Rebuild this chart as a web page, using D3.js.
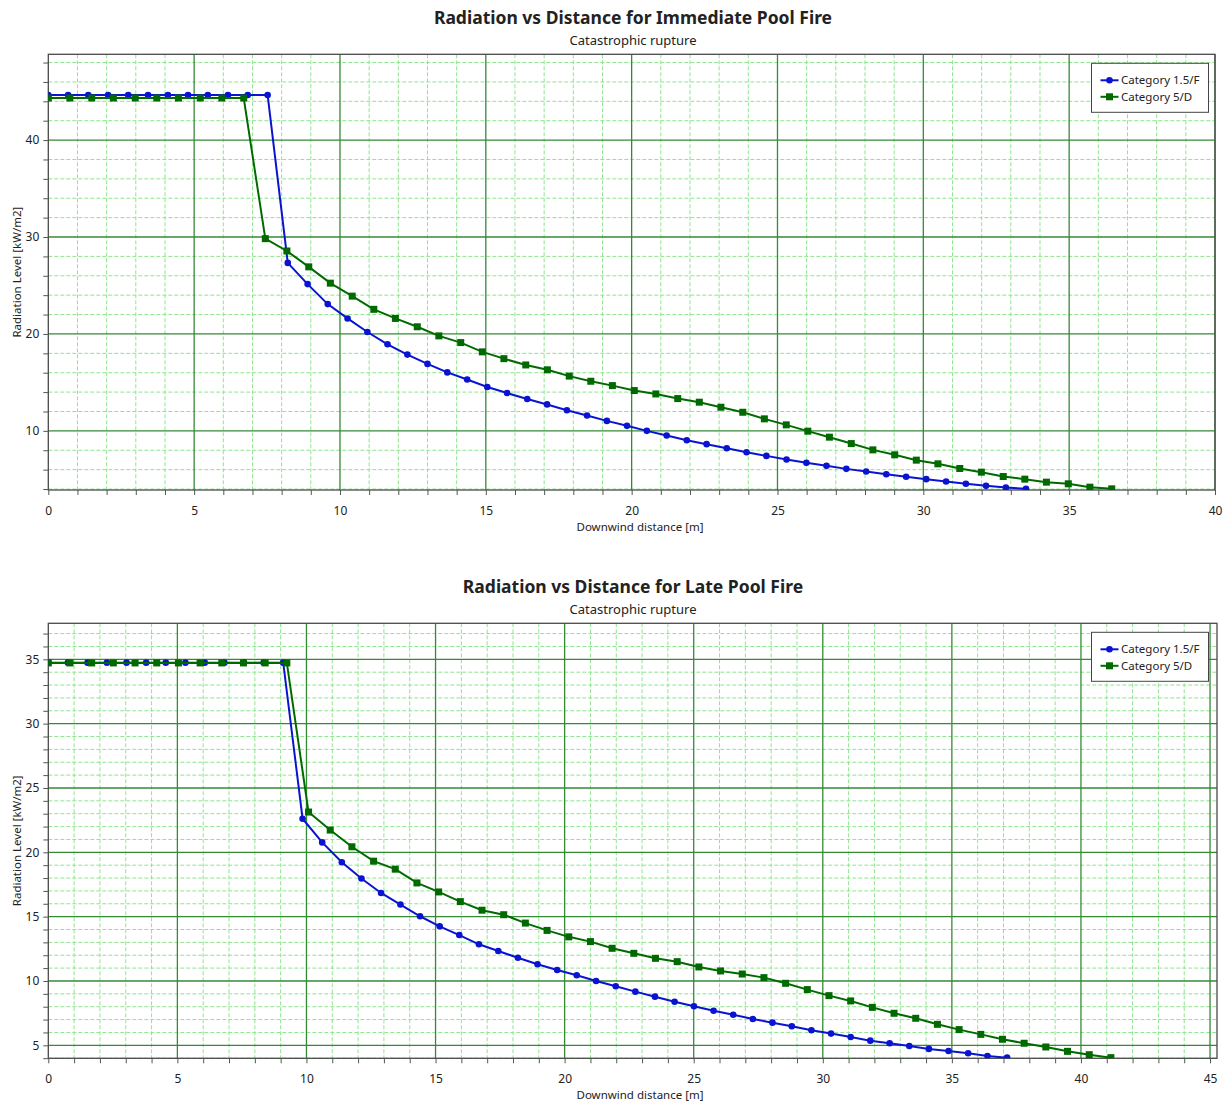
<!DOCTYPE html>
<html lang="en">

<head>
    <meta charset="UTF-8">
    <title>Radiation vs Distance</title>
    <script src="https://d3js.org/d3.v7.min.js"></script>
    <style>
        body {
            margin: 0;
            background: #fff;
        }

        text {
            font-family: "Segoe UI", "Noto Sans", sans-serif;
            fill: #222;
        }

        .major {
            stroke: #358a35;
            stroke-width: 1.3px;
        }

        .minor {
            stroke: #90e490;
            stroke-width: 1px;
            stroke-dasharray: 4 2;
        }

        .frame {
            stroke: #4a4a4a;
            stroke-width: 1.3px;
            fill: none;
        }
    </style>
</head>

<body>

    <script>
        const width = 1231;
        const height = 1108;

        // Immediate pool fire - Category 1.5/F
        const immDistF = [0, 0.68, 1.37, 2.05, 2.74, 3.42, 4.10, 4.79, 5.47, 6.16, 6.84, 7.52, 8.21, 8.89, 9.58,
            10.26, 10.94, 11.63, 12.31, 13.00, 13.68, 14.36, 15.05, 15.73, 16.42, 17.10, 17.78, 18.47, 19.15, 19.84,
            20.52, 21.20, 21.89, 22.57, 23.26, 23.94, 24.62, 25.31, 25.99, 26.68, 27.36, 28.04, 28.73, 29.41, 30.10,
            30.78, 31.46, 32.15, 32.83, 33.52];
        const immRadF = [44.65, 44.65, 44.65, 44.65, 44.65, 44.65, 44.65, 44.65, 44.65, 44.65, 44.65, 44.65,
            27.33, 25.14, 23.08, 21.6, 20.2, 18.93, 17.87, 16.91, 16.03, 15.3,
            14.52, 13.9, 13.29, 12.73, 12.13, 11.58, 11.03, 10.52, 10.0, 9.52,
            9.04, 8.63, 8.21, 7.80, 7.42, 7.04, 6.70, 6.39, 6.08, 5.81,
            5.53, 5.26, 5.02, 4.78, 4.54, 4.33, 4.16, 4.02];

        // Immediate pool fire - Category 5/D
        const immDistD = [0, 0.74, 1.49, 2.23, 2.98, 3.72, 4.46, 5.21, 5.95, 6.70, 7.44, 8.18, 8.93, 9.67, 10.42,
            11.16, 11.90, 12.65, 13.39, 14.14, 14.88, 15.62, 16.37, 17.11, 17.86, 18.60, 19.34, 20.09, 20.83, 21.58,
            22.32, 23.06, 23.81, 24.55, 25.30, 26.04, 26.78, 27.53, 28.27, 29.02, 29.76, 30.50, 31.25, 31.99, 32.74,
            33.48, 34.22, 34.97, 35.71, 36.46];
        const immRadD = [44.34, 44.34, 44.34, 44.34, 44.34, 44.34, 44.34, 44.34, 44.34, 44.34,
            29.83, 28.56, 26.92, 25.24, 23.9, 22.54, 21.6, 20.74, 19.8, 19.11,
            18.15, 17.45, 16.8, 16.3, 15.65, 15.12, 14.67, 14.16, 13.81, 13.33,
            12.96, 12.44, 11.92, 11.24, 10.62, 9.97, 9.35, 8.69, 8.04, 7.53,
            6.98, 6.60, 6.12, 5.74, 5.29, 5.02, 4.71, 4.54, 4.19, 4.02];

        // Late pool fire - Category 1.5/F
        const lateDistF = [0, 0.76, 1.52, 2.27, 3.03, 3.79, 4.55, 5.31, 6.06, 6.82, 7.58, 8.34, 9.10, 9.85, 10.61,
            11.37, 12.13, 12.89, 13.64, 14.40, 15.16, 15.92, 16.68, 17.43, 18.19, 18.95, 19.71, 20.47, 21.22, 21.98,
            22.74, 23.50, 24.26, 25.01, 25.77, 26.53, 27.29, 28.05, 28.80, 29.56, 30.32, 31.08, 31.84, 32.59, 33.35,
            34.11, 34.87, 35.63, 36.38, 37.14];
        const lateRadF = [34.74, 34.74, 34.74, 34.74, 34.74, 34.74, 34.74, 34.74, 34.74, 34.74, 34.74, 34.74, 34.74,
            22.61, 20.77, 19.23, 17.96, 16.84, 15.94, 15.03, 14.25, 13.57,
            12.85, 12.33, 11.8, 11.3, 10.85, 10.44, 10.0, 9.59, 9.17, 8.78,
            8.39, 8.03, 7.69, 7.38, 7.05, 6.76, 6.48, 6.17, 5.91, 5.65,
            5.36, 5.16, 4.95, 4.72, 4.56, 4.38, 4.17, 4.04];

        // Late pool fire - Category 5/D
        const lateDistD = [0, 0.84, 1.68, 2.52, 3.36, 4.20, 5.04, 5.88, 6.72, 7.56, 8.40, 9.24, 10.08, 10.92, 11.76,
            12.60, 13.44, 14.28, 15.12, 15.96, 16.80, 17.64, 18.48, 19.32, 20.16, 21.00, 21.84, 22.68, 23.52, 24.36,
            25.20, 26.04, 26.88, 27.72, 28.56, 29.40, 30.24, 31.08, 31.92, 32.76, 33.60, 34.44, 35.28, 36.12, 36.96,
            37.80, 38.64, 39.48, 40.32, 41.16];
        const lateRadD = [34.72, 34.72, 34.72, 34.72, 34.72, 34.72, 34.72, 34.72, 34.72, 34.72, 34.72, 34.72,
            23.13, 21.73, 20.43, 19.31, 18.69, 17.62, 16.92, 16.17, 15.5, 15.15,
            14.5, 13.93, 13.43, 13.06, 12.54, 12.15, 11.76, 11.50, 11.09, 10.78,
            10.54, 10.26, 9.82, 9.33, 8.86, 8.45, 7.95, 7.49, 7.10, 6.63,
            6.22, 5.85, 5.47, 5.16, 4.87, 4.53, 4.27, 4.04];

        const seriesNames = ['Category 1.5/F', 'Category 5/D'];
        const seriesColors = ['#0a14d0', '#006a00'];

        const immXTicks = [0, 5, 10, 15, 20, 25, 30, 35, 40];
        const immYTicks = [10, 20, 30, 40];
        const lateXTicks = [0, 5, 10, 15, 20, 25, 30, 35, 40, 45];
        const lateYTicks = [5, 10, 15, 20, 25, 30, 35];

        const svg = d3.select('body').append('svg')
            .attr('width', width)
            .attr('height', height);

        function drawChart(opt) {
            const g = svg.append('g');
            const x = d3.scaleLinear().domain([0, opt.xMax]).range([opt.left, opt.right]);
            const y = d3.scaleLinear().domain([opt.yMin, opt.yMax]).range([opt.bottom, opt.top]);

            // titles
            g.append('text')
                .attr('x', 633).attr('y', opt.top - 30)
                .attr('text-anchor', 'middle')
                .style('font-size', '17.5px').style('font-weight', 'bold')
                .text(opt.title);
            g.append('text')
                .attr('x', 633).attr('y', opt.top - 9)
                .attr('text-anchor', 'middle')
                .style('font-size', '13px')
                .text('Catastrophic rupture');

            // grid
            const xMinor = d3.range(1, opt.xMax, 1).filter(v => v % 5 !== 0);
            const yMinor = d3.range(Math.ceil(opt.yMin / opt.yStep) * opt.yStep, opt.yMax, opt.yStep)
                .filter(v => !opt.yTicks.includes(v));

            g.selectAll('.vminor').data(xMinor).enter().append('line')
                .attr('class', 'minor')
                .attr('x1', d => x(d)).attr('x2', d => x(d))
                .attr('y1', opt.top).attr('y2', opt.bottom);
            g.selectAll('.hminor').data(yMinor).enter().append('line')
                .attr('class', 'minor')
                .attr('x1', opt.left).attr('x2', opt.right)
                .attr('y1', d => y(d)).attr('y2', d => y(d));
            g.selectAll('.vmajor').data(opt.xTicks.filter(v => v > 0)).enter().append('line')
                .attr('class', 'major')
                .attr('x1', d => x(d)).attr('x2', d => x(d))
                .attr('y1', opt.top).attr('y2', opt.bottom);
            g.selectAll('.hmajor').data(opt.yTicks).enter().append('line')
                .attr('class', 'major')
                .attr('x1', opt.left).attr('x2', opt.right)
                .attr('y1', d => y(d)).attr('y2', d => y(d));

            g.append('rect').attr('class', 'frame')
                .attr('x', opt.left).attr('y', opt.top)
                .attr('width', opt.right - opt.left).attr('height', opt.bottom - opt.top);

            // axes
            const xAxis = d3.axisBottom(x)
                .tickValues(d3.range(0, Math.floor(opt.xMax) + 1, 1))
                .tickSize(5)
                .tickFormat(d => opt.xTicks.includes(d) ? d : '');
            g.append('g').attr('transform', `translate(0,${opt.bottom})`).call(xAxis)
                .call(a => a.select('.domain').remove())
                .call(a => a.selectAll('line').attr('stroke', '#555'))
                .call(a => a.selectAll('text').attr('dy', '1.4em').style('font-size', '12px')
                    .style('font-family', '"Segoe UI", "Noto Sans", sans-serif').attr('fill', '#222'));

            const yAxis = d3.axisLeft(y)
                .tickValues(opt.yTicks.concat(yMinor))
                .tickSize(5)
                .tickFormat(d => opt.yTicks.includes(d) ? d : '');
            g.append('g').attr('transform', `translate(${opt.left},0)`).call(yAxis)
                .call(a => a.select('.domain').remove())
                .call(a => a.selectAll('line').attr('stroke', '#555'))
                .call(a => a.selectAll('text').attr('x', -9).style('font-size', '12px')
                    .style('font-family', '"Segoe UI", "Noto Sans", sans-serif').attr('fill', '#222'));

            g.append('text')
                .attr('x', 640).attr('y', opt.bottom + 41)
                .attr('text-anchor', 'middle')
                .style('font-size', '11.5px')
                .text('Downwind distance [m]');
            g.append('text')
                .attr('transform', `translate(21,${(opt.top + opt.bottom) / 2}) rotate(-90)`)
                .attr('text-anchor', 'middle')
                .style('font-size', '11.5px')
                .text('Radiation Level [kW/m2]');

            // series
            const clipId = 'clip' + opt.id;
            svg.append('clipPath').attr('id', clipId).append('rect')
                .attr('x', opt.left).attr('y', opt.top)
                .attr('width', opt.right - opt.left).attr('height', opt.bottom - opt.top);

            const plot = g.append('g').attr('clip-path', `url(#${clipId})`);
            const line = d3.line().x(d => x(d[0])).y(d => y(d[1]));

            opt.series.forEach((s, i) => {
                const pts = s.dist.map((d, k) => [d, s.rad[k]]);
                plot.append('path')
                    .datum(pts)
                    .attr('fill', 'none')
                    .attr('stroke', seriesColors[i])
                    .attr('stroke-width', 2)
                    .attr('d', line);
                if (i === 0) {
                    plot.selectAll('.pt' + i).data(pts).enter().append('circle')
                        .attr('cx', d => x(d[0])).attr('cy', d => y(d[1]))
                        .attr('r', 3.3).attr('fill', seriesColors[i]);
                } else {
                    plot.selectAll('.pt' + i).data(pts).enter().append('rect')
                        .attr('x', d => x(d[0]) - 3.5).attr('y', d => y(d[1]) - 3.5)
                        .attr('width', 7).attr('height', 7).attr('fill', seriesColors[i]);
                }
            });

            // legend
            const lg = g.append('g').attr('transform', `translate(1091.5,${opt.top + 9})`);
            lg.append('rect').attr('width', 117).attr('height', 49)
                .attr('fill', '#fff').attr('stroke', '#444').attr('stroke-width', 1);
            seriesNames.forEach((name, i) => {
                const ly = 17 + i * 16.5;
                lg.append('line').attr('x1', 9).attr('x2', 27).attr('y1', ly).attr('y2', ly)
                    .attr('stroke', seriesColors[i]).attr('stroke-width', 2);
                if (i === 0) {
                    lg.append('circle').attr('cx', 18).attr('cy', ly).attr('r', 3.3).attr('fill', seriesColors[i]);
                } else {
                    lg.append('rect').attr('x', 14.5).attr('y', ly - 3.5).attr('width', 7).attr('height', 7)
                        .attr('fill', seriesColors[i]);
                }
                lg.append('text').attr('x', 29.5).attr('y', ly + 4)
                    .style('font-size', '11.5px').text(name);
            });
        }

        drawChart({
            id: 1, title: 'Radiation vs Distance for Immediate Pool Fire',
            left: 48.3, right: 1215, top: 54.3, bottom: 490,
            xMax: 40, yMin: 3.9, yMax: 48.85, yStep: 2,
            xTicks: immXTicks, yTicks: immYTicks,
            series: [{ dist: immDistF, rad: immRadF }, { dist: immDistD, rad: immRadD }]
        });

        drawChart({
            id: 2, title: 'Radiation vs Distance for Late Pool Fire',
            left: 48.3, right: 1217, top: 623.3, bottom: 1058.3,
            xMax: 45.27, yMin: 3.99, yMax: 37.8, yStep: 1,
            xTicks: lateXTicks, yTicks: lateYTicks,
            series: [{ dist: lateDistF, rad: lateRadF }, { dist: lateDistD, rad: lateRadD }]
        });
    </script>

</body>

</html>
